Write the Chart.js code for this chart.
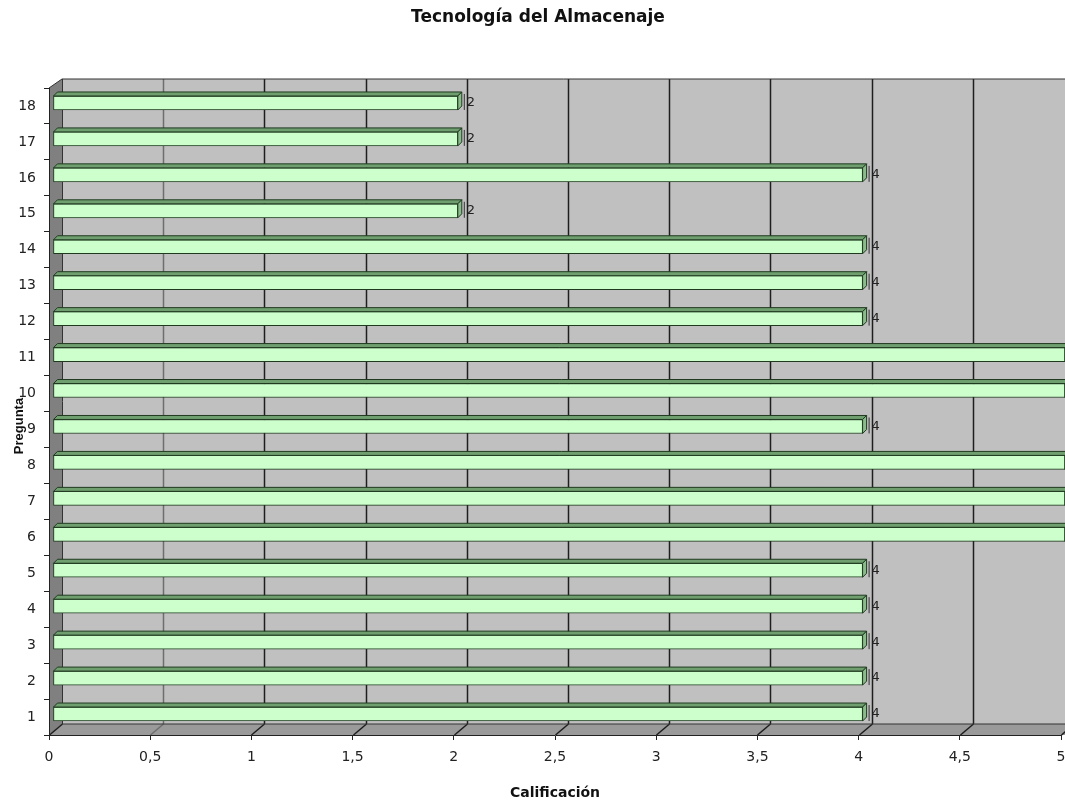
<!DOCTYPE html>
<html>
<head>
<meta charset="utf-8">
<script src="https://cdn.jsdelivr.net/npm/chart.js@4.4.1/dist/chart.umd.min.js"></script>
<style>
  html, body { margin: 0; padding: 0; background: #fff; }
  #wrap { width: 1065px; height: 804px; }
</style>
</head>
<body>
<div id="wrap"><canvas id="myBarChart" width="1065" height="804"></canvas></div>
<script>
const preguntas = ['1', '2', '3', '4', '5', '6', '7', '8', '9', '10', '11', '12', '13', '14', '15', '16', '17', '18'];
const calificacion = [4, 4, 4, 4, 4, 5, 5, 5, 4, 5, 5, 4, 4, 4, 2, 4, 2, 2];
const xTicks = [0, 0.5, 1, 1.5, 2, 2.5, 3, 3.5, 4, 4.5, 5];

const chartTitle = 'Tecnología del Almacenaje';
const yTitle = 'Pregunta';
const xTitle = 'Calificación';

const FONT = '"DejaVu Sans", Verdana, sans-serif';
const DX = 13, DY = 10;   // depth of the 3D walls
const BD = 4;             // depth of the bars

// walls, floor and back grid lines
const wallsPlugin = {
    id: 'walls',
    beforeDraw(chart) {
        const ctx = chart.ctx;
        const a = chart.chartArea;
        const xs = chart.scales.x;
        ctx.save();
        // back wall
        ctx.fillStyle = '#C0C0C0';
        ctx.fillRect(a.left + DX, a.top - DY + 1, chart.width - a.left - DX, a.bottom - a.top);
        // left wall
        ctx.fillStyle = '#808080';
        ctx.beginPath();
        ctx.moveTo(a.left, a.top);
        ctx.lineTo(a.left + DX, a.top - DY + 1);
        ctx.lineTo(a.left + DX, a.bottom - DY - 1);
        ctx.lineTo(a.left, a.bottom);
        ctx.closePath();
        ctx.fill();
        // floor
        ctx.fillStyle = '#9A9A9A';
        ctx.beginPath();
        ctx.moveTo(a.left, a.bottom);
        ctx.lineTo(a.left + DX, a.bottom - DY - 1);
        ctx.lineTo(chart.width + DX, a.bottom - DY - 1);
        ctx.lineTo(chart.width, a.bottom);
        ctx.closePath();
        ctx.fill();
        // grid lines
        ctx.lineWidth = 1.5;
        xTicks.forEach(v => {
            const x = Math.round(xs.getPixelForValue(v)) + 0.5;
            ctx.strokeStyle = v === 0.5 ? '#6E6E6E' : '#1E1E1E';
            if (v > 0) {
                ctx.beginPath();
                ctx.moveTo(x + DX, a.top - DY + 1);
                ctx.lineTo(x + DX, a.bottom - DY - 1);
                ctx.stroke();
            }
            ctx.beginPath();
            ctx.moveTo(x, a.bottom);
            ctx.lineTo(x + DX, a.bottom - DY - 1);
            ctx.stroke();
        });
        // wall edges
        ctx.strokeStyle = '#333';
        ctx.lineWidth = 1;
        ctx.beginPath();
        ctx.moveTo(a.left + DX + 0.5, a.top - DY + 1);
        ctx.lineTo(a.left + DX + 0.5, a.bottom - DY - 1);
        ctx.lineTo(chart.width, a.bottom - DY - 1);
        ctx.stroke();
        ctx.beginPath();
        ctx.moveTo(a.left, a.top);
        ctx.lineTo(a.left + DX, a.top - DY + 1);
        ctx.lineTo(chart.width, a.top - DY + 1);
        ctx.stroke();

        // titles
        ctx.fillStyle = '#111';
        ctx.font = 'bold 17px ' + FONT;
        ctx.textAlign = 'center';
        ctx.textBaseline = 'middle';
        ctx.fillText(chartTitle, 538, 18);
        ctx.font = 'bold 13px "Liberation Sans", Arial, sans-serif';
        ctx.translate(19, 426);
        ctx.rotate(-Math.PI / 2);
        ctx.fillText(yTitle, 0, 0);
        ctx.restore();
    },
    beforeDatasetsDraw(chart) {
        chart.ctx.save();
        chart.ctx.translate(BD, -3);
    },
    afterDatasetsDraw(chart) {
        const ctx = chart.ctx;
        const meta = chart.getDatasetMeta(0);
        meta.data.forEach((bar, i) => {
            const p = bar.getProps(['x', 'y', 'base', 'height'], true);
            const t = p.y - p.height / 2, b = p.y + p.height / 2;
            ctx.lineWidth = 1;
            ctx.strokeStyle = '#1F3A1F';
            // top face
            ctx.fillStyle = '#6F9F6F';
            ctx.beginPath();
            ctx.moveTo(p.base, t);
            ctx.lineTo(p.base + BD, t - BD);
            ctx.lineTo(p.x + BD, t - BD);
            ctx.lineTo(p.x, t);
            ctx.closePath();
            ctx.fill();
            ctx.stroke();
            // side face
            ctx.fillStyle = '#8ABB8A';
            ctx.beginPath();
            ctx.moveTo(p.x, t);
            ctx.lineTo(p.x + BD, t - BD);
            ctx.lineTo(p.x + BD, b - BD);
            ctx.lineTo(p.x, b);
            ctx.closePath();
            ctx.fill();
            ctx.stroke();
            // value label
            ctx.strokeStyle = '#333';
            ctx.beginPath();
            ctx.moveTo(p.x + BD + 2.5, t - 2);
            ctx.lineTo(p.x + BD + 2.5, b);
            ctx.stroke();
            ctx.fillStyle = '#222';
            ctx.font = '13px ' + FONT;
            ctx.textAlign = 'left';
            ctx.textBaseline = 'middle';
            ctx.fillText(String(calificacion[i]), p.x + BD + 5, p.y);
        });
        ctx.restore();
    }
};

const ctx = document.getElementById('myBarChart').getContext('2d');

const myBarChart = new Chart(ctx, {
    type: 'bar',
    data: {
        labels: preguntas,
        datasets: [{
            label: xTitle,
            data: calificacion,
            backgroundColor: '#CCFFCC',
            borderColor: '#1F3A1F',
            borderWidth: 1,
            borderSkipped: false,
            barThickness: 14,
            clip: false
        }]
    },
    options: {
        indexAxis: 'y',
        responsive: false,
        maintainAspectRatio: false,
        animation: false,
        layout: { padding: { top: 88, left: 0, right: 4, bottom: 0 } },
        plugins: {
            legend: { display: false },
            title: { display: false },
            tooltip: { enabled: false }
        },
        scales: {
            x: {
                min: 0,
                max: 5,
                afterBuildTicks(scale) {
                    scale.ticks = xTicks.map(v => ({ value: v }));
                },
                afterFit(scale) {
                    scale.height = 69;
                    scale.paddingLeft = 0;
                    scale.paddingRight = 0;
                },
                grid: { display: true, drawOnChartArea: false, drawTicks: true, tickLength: 5, color: '#222' },
                border: { display: true, color: '#222' },
                ticks: {
                    padding: 9,
                    color: '#222',
                    maxRotation: 0,
                    font: { family: FONT, size: 14 },
                    callback: v => String(v).replace('.', ',')
                },
                title: {
                    display: true,
                    text: xTitle,
                    color: '#111',
                    font: { family: FONT, size: 14, weight: 'bold' },
                    padding: { top: 0, bottom: 2 }
                }
            },
            y: {
                reverse: true,
                afterFit(scale) {
                    scale.width = 49;
                },
                grid: { display: true, drawOnChartArea: false, drawTicks: true, tickLength: 5, offset: true, color: '#222' },
                border: { display: true, color: '#222' },
                ticks: {
                    padding: 8,
                    color: '#222',
                    font: { family: FONT, size: 14 }
                }
            }
        }
    },
    plugins: [wallsPlugin]
});
</script>
</body>
</html>
